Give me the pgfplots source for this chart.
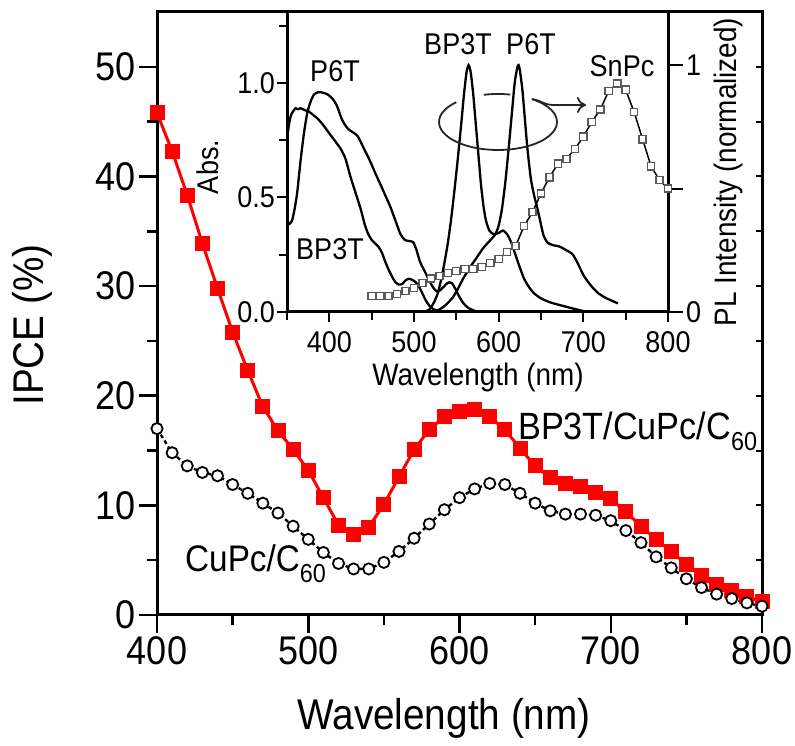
\documentclass[border=0pt]{standalone}
\usepackage{fontspec}
\setmainfont{Liberation Sans}[FakeStretch=0.9]
\usepackage{pgfplots}
\pgfplotsset{compat=1.18}
\usetikzlibrary{arrows.meta}
\begin{document}
\begin{tikzpicture}
\path[use as bounding box] (0pt,0pt) rectangle (795pt,746pt);
% ---------------- main axis ----------------
\begin{axis}[
  at={(157pt,131pt)}, anchor=south west, scale only axis,
  width=605pt, height=603pt,
  xmin=400, xmax=800, ymin=0, ymax=55,
  xtick={400,500,...,800}, minor xtick={450,550,650,750},
  ytick={0,10,...,50}, minor ytick={5,15,...,45},
  tick align=outside, xtick pos=bottom, ytick pos=left,
  major tick length=18pt, minor tick length=10pt,
  every tick/.style={line width=2.5pt, black},
  axis line style={line width=3pt},
  ticklabel style={font=\fontsize{40}{40}\selectfont, inner sep=3pt},
  /pgf/number format/assume math mode=true,
  clip=false,
]
\addplot[red, line width=3pt, mark=square*, mark size=6pt, mark options={fill=red, draw=red, solid}] coordinates {
(400,45.8)(410,42.3)(420,38.3)(430,33.9)(440,29.8)(450,25.8)(460,22.3)(470,19.0)(480,16.8)(490,15.1)
(500,13.2)(510,10.7)(520,8.2)(530,7.3)};
\addplot[red, line width=3pt, mark=square*, mark size=6pt, mark options={fill=red, draw=red, solid}] coordinates {
(540,8.0)(550,10.1)(560,12.6)(570,15.1)(580,16.9)(590,18.1)(600,18.6)(610,18.7)(620,18.1)(630,16.9)
(640,15.2)(650,13.6)(660,12.5)(670,12.0)(680,11.7)(690,11.2)(700,10.6)(710,9.4)(720,8.1)(730,6.9)
(740,5.8)(750,4.6)(760,3.6)(770,2.8)(780,2.2)(790,1.7)(800,1.2)};
\addplot[black, line width=2.4pt, dash pattern=on 4pt off 3pt, mark=*, mark size=5.6pt, mark options={fill=white, draw=black, line width=1.8pt, solid}] coordinates {
(400,17.0)(410,14.8)(420,13.6)(430,13.0)(440,12.7)(450,11.9)(460,11.1)(470,10.2)(480,9.3)(490,8.1)
(500,6.9)(510,5.7)(520,4.7)(530,4.2)(540,4.2)(550,4.8)(560,5.8)(570,7.0)(580,8.3)(590,9.6)
(600,10.7)(610,11.5)(620,12.0)(630,11.9)(640,11.1)(650,10.2)(660,9.5)(670,9.2)(680,9.2)(690,9.1)
(700,8.6)(710,7.7)(720,6.6)(730,5.3)(740,4.3)(750,3.3)(760,2.5)(770,1.9)(780,1.5)(790,1.1)(800,0.8)};
\end{axis}
% right-side inward ticks of main axis
\begin{axis}[
  at={(157pt,131pt)}, anchor=south west, scale only axis,
  width=605pt, height=603pt,
  xmin=400, xmax=800, ymin=0, ymax=55,
  axis y line*=right, hide x axis, axis line style={draw=none},
  ytick={5,10,...,50}, yticklabels={}, tick align=inside,
  major tick length=6pt, every tick/.style={line width=2pt, black},
]
\addplot[draw=none] coordinates {(400,0)};
\end{axis}
% ---------------- inset: absorbance ----------------
\begin{axis}[
  at={(287pt,434pt)}, anchor=south west, scale only axis,
  width=381pt, height=300pt,
  xmin=350, xmax=800, ymin=0, ymax=1.31,
  axis x line*=bottom, axis y line*=left,
  xtick={400,500,...,800}, minor xtick={350,450,...,750},
  ytick={0,0.5,1}, minor ytick={0.25,0.75,1.25},
  tick align=outside,
  major tick length=10pt, minor tick length=8pt,
  every tick/.style={line width=2pt, black},
  axis line style={line width=3pt, -},
  ticklabel style={font=\fontsize{30}{30}\selectfont, inner sep=2pt},
  xticklabel style={yshift=-7pt},
  yticklabel style={/pgf/number format/.cd, fixed, fixed zerofill, precision=1},
  /pgf/number format/assume math mode=true,
]
\addplot[black, line width=2.3pt, smooth, tension=0.4] coordinates {
(350,0.40)(353,0.385)(356,0.40)(359,0.45)(362,0.52)(366,0.66)(370,0.78)(374,0.87)(378,0.92)(382,0.95)
(387,0.96)(392,0.958)(398,0.95)(404,0.93)(409,0.90)(415,0.84)(422,0.80)(433,0.77)(440,0.72)(448,0.66)
(455,0.60)(460,0.56)(466,0.51)(472,0.46)(478,0.40)(484,0.34)(489,0.315)(494,0.31)(499,0.305)(503,0.27)
(507,0.22)(511,0.19)(515,0.16)(519,0.13)(523,0.105)(527,0.09)(531,0.095)(535,0.11)(539,0.125)(542,0.13)
(545,0.125)(549,0.10)(553,0.07)(558,0.04)(564,0.018)(572,0.005)(585,0)(620,0)};
\addplot[black, line width=2.3pt, smooth, tension=0.4] coordinates {
(350,0.75)(352,0.81)(354,0.85)(356,0.87)(358,0.88)(360,0.89)(363,0.885)(366,0.89)(369,0.885)(372,0.88)
(376,0.875)(381,0.86)(386,0.845)(392,0.82)(398,0.79)(405,0.755)(413,0.715)(419,0.67)(425,0.59)(431,0.52)
(437,0.45)(442,0.38)(446,0.34)(450,0.315)(454,0.30)(458,0.285)(462,0.26)(466,0.22)(470,0.185)(474,0.155)
(478,0.13)(482,0.12)(486,0.122)(490,0.138)(494,0.145)(498,0.14)(502,0.13)(506,0.11)(510,0.08)(514,0.05)
(518,0.028)(523,0.012)(530,0.003)(540,0)};
\end{axis}
% ---------------- inset: PL ----------------
\begin{axis}[
  at={(287pt,434pt)}, anchor=south west, scale only axis,
  width=381pt, height=300pt,
  xmin=350, xmax=800, ymin=0, ymax=1.215,
  axis y line*=right, hide x axis,
  ytick={0,0.5,1}, yticklabels={0,,1},
  tick align=outside, major tick length=15pt,
  every tick/.style={line width=2pt, black},
  axis line style={line width=3pt, -},
  ticklabel style={font=\fontsize{30}{30}\selectfont, inner sep=3pt},
  /pgf/number format/assume math mode=true,
]
\addplot[black, line width=2.3pt, smooth, tension=0.4] coordinates {
(512,0)(518,0.01)(523,0.035)(528,0.075)(532,0.13)(536,0.20)(540,0.28)(544,0.38)(548,0.50)(552,0.63)
(556,0.77)(559,0.88)(562,0.97)(564.5,1.0)(567,0.97)(570,0.88)(573,0.76)(576,0.64)(579,0.52)(582,0.43)
(585,0.37)(589,0.33)(594,0.315)(600,0.32)(605,0.33)(610,0.315)(615,0.28)(620,0.23)(625,0.18)(630,0.135)
(636,0.10)(642,0.075)(650,0.055)(660,0.04)(670,0.03)(681,0.02)(690,0.012)(700,0.004)(710,0)};
\addplot[black, line width=2.3pt, smooth, tension=0.4] coordinates {
(522,0)(530,0.01)(538,0.03)(546,0.06)(552,0.095)(558,0.135)(566,0.18)(574,0.22)(582,0.26)(590,0.29)
(596,0.315)(600,0.35)(604,0.42)(608,0.53)(612,0.67)(616,0.82)(619,0.93)(622,0.99)(623.5,1.0)(625,0.98)
(628,0.90)(631,0.78)(634,0.66)(638,0.54)(642,0.47)(645,0.43)(649,0.37)(653,0.31)(658,0.28)(665,0.27)
(672,0.265)(680,0.25)(687,0.235)(693,0.20)(700,0.15)(706,0.12)(712,0.095)(718,0.075)(726,0.058)(734,0.045)(741,0.035)};
\addplot[black, line width=1.5pt, mark=square*, mark size=3.6pt, mark options={fill=white, draw=black!65, line width=1.5pt}] coordinates {
(450,0.065)(460,0.065)(470,0.065)(480,0.073)(490,0.085)(500,0.097)(510,0.117)(520,0.136)(530,0.146)(540,0.158)
(550,0.166)(560,0.174)(570,0.174)(580,0.182)(590,0.198)(600,0.215)(610,0.243)(620,0.267)(630,0.348)(640,0.405)
(650,0.48)(660,0.546)(670,0.60)(680,0.62)(690,0.66)(700,0.71)(710,0.77)(720,0.82)(730,0.895)(740,0.925)
(750,0.90)(760,0.81)(770,0.70)(780,0.59)(790,0.534)(800,0.50)};
\end{axis}
% ---------------- labels ----------------
\node[rotate=90, font=\fontsize{43}{43}\selectfont] at (32pt,421pt) {IPCE (\%)};
\node[font=\fontsize{43}{43}\selectfont] at (444pt,28pt) {Wavelength (nm)};
\node[font=\fontsize{31}{31}\selectfont] at (478pt,369pt) {Wavelength (nm)};
\node[rotate=90, font=\fontsize{30}{30}\selectfont] at (208pt,579pt) {Abs.};
\node[rotate=90, font=\fontsize{31}{31}\selectfont] at (728pt,574pt) {PL Intensity (normalized)};
\node[font=\fontsize{30}{30}\selectfont] at (335pt,675pt) {P6T};
\node[font=\fontsize{30}{30}\selectfont] at (330pt,497pt) {BP3T};
\node[font=\fontsize{30}{30}\selectfont] at (458pt,702pt) {BP3T};
\node[font=\fontsize{30}{30}\selectfont] at (531pt,702pt) {P6T};
\node[font=\fontsize{30}{30}\selectfont] at (622pt,680pt) {SnPc};
\node[anchor=base west, inner sep=0pt, font=\fontsize{38}{38}\selectfont] at (518pt,306pt) {BP3T/CuPc/C\raisebox{-0.28em}{\fontsize{26}{26}\selectfont 60}};
\node[anchor=base west, inner sep=0pt, font=\fontsize{37}{37}\selectfont] at (185pt,174pt) {CuPc/C\raisebox{-0.28em}{\fontsize{26}{26}\selectfont 60}};
% ellipse and arrow
\draw[line width=1.8pt, black!85] (456.3pt,643.8pt) arc[start angle=135, end angle=415, x radius=59pt, y radius=28pt];
\draw[line width=1.8pt, black!85] (510.3pt,651.4pt) arc[start angle=78, end angle=104, x radius=59pt, y radius=28pt];
\draw[line width=1.8pt, black!85, -{To[length=9pt,width=16pt,line width=1.8pt]}] (531.9pt,646.9pt) .. controls (540pt,646pt) and (545pt,641pt) .. (552pt,641pt) -- (586pt,641pt);
\end{tikzpicture}
\end{document}
